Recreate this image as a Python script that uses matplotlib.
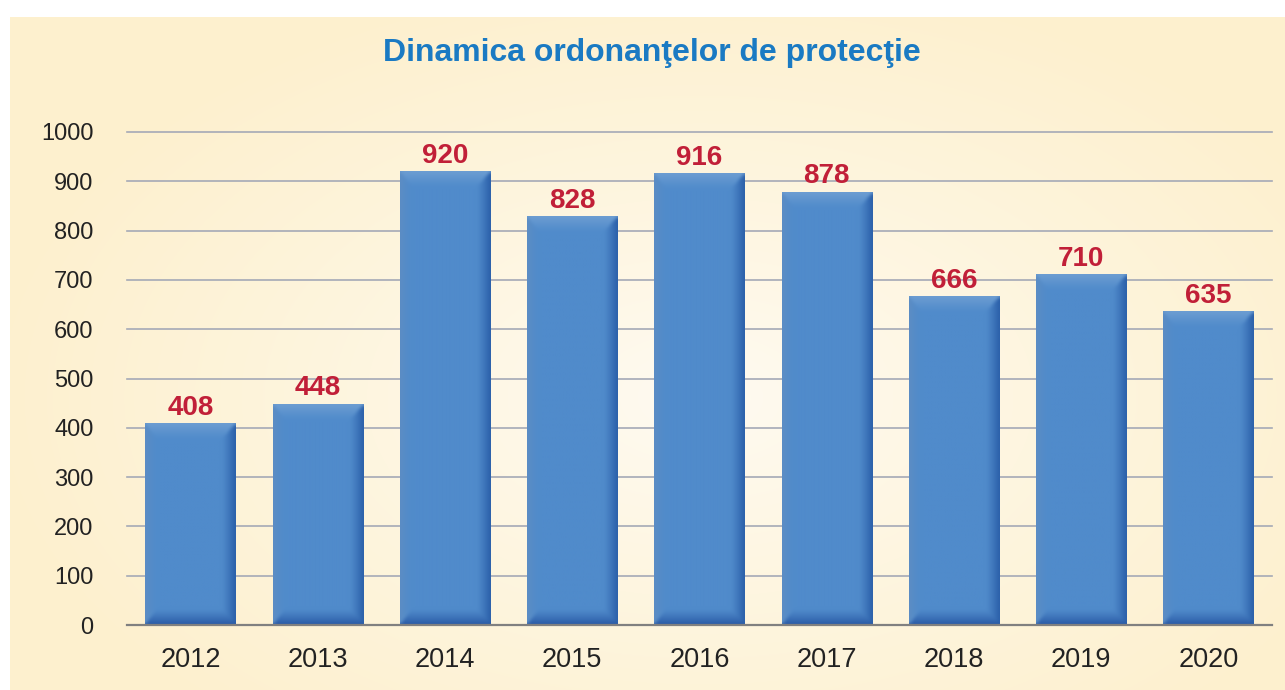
import numpy as np
import matplotlib
matplotlib.use('Agg')
import matplotlib.pyplot as plt

years = ['2012', '2013', '2014', '2015', '2016', '2017', '2018', '2019', '2020']
values = [408, 448, 920, 828, 916, 878, 666, 710, 635]
yticks = [0, 100, 200, 300, 400, 500, 600, 700, 800, 900, 1000]
title = 'Dinamica ordonanţelor de protecţie'

plt.rcParams['font.family'] = ['Liberation Sans', 'DejaVu Sans']

W, H = 1285, 690
fig = plt.figure(figsize=(W / 100, H / 100), dpi=100)
fig.patch.set_facecolor('white')

# background panel with radial gradient
px0, py0 = 10, 17
bg = fig.add_axes([px0 / W, 0, 1 - px0 / W, (H - py0) / H])
ny, nx = H - py0, W - px0
yy, xx = np.mgrid[0:ny, 0:nx]
cx, cy = 690, 380
d = np.sqrt(((xx - cx) / 720.0) ** 2 + ((yy - cy) / 430.0) ** 2)
t = np.clip(d, 0, 1) ** 0.9
inner = np.array([255, 251, 242]) / 255
outer = np.array([253, 240, 206]) / 255
img = inner + (outer - inner) * t[..., None]
bg.imshow(img, aspect='auto', extent=(0, 1, 0, 1), interpolation='bilinear')
bg.set_xlim(0, 1)
bg.set_ylim(0, 1)
bg.axis('off')

# main axes
L, R, B, T = 127, 1272, 625, 132
ax = fig.add_axes([L / W, (H - B) / H, (R - L) / W, (B - T) / H])
ax.patch.set_alpha(0)
x = np.arange(len(years))
bw = 0.71
bars = ax.bar(x, values, width=bw, color='#4f8bcb', zorder=2)

px_per_x = (R - L) / 9.0
px_per_y = (B - T) / 1000.0

base = np.array([0x50, 0x8b, 0xcb]) / 255
edge_cols = np.array([
    [0x5c, 0x8d, 0xc4],  # left
    [0x2a, 0x5e, 0xa8],  # right
    [0x6e, 0x9e, 0xd2],  # top
    [0x28, 0x58, 0xa4],  # bottom
]) / 255
bl, br, bt, bb = 12.0, 14.0, 16.0, 16.0


def smooth(a, k):
    kern = np.ones(k) / k
    pad = k // 2
    out = np.empty_like(a)
    ap = np.pad(a, ((pad, pad), (0, 0), (0, 0)), mode='edge')
    for c in range(a.shape[2]):
        for j in range(a.shape[1]):
            out[:, j, c] = np.convolve(ap[:, j, c], kern, mode='valid')[:a.shape[0]]
    ap = np.pad(out, ((0, 0), (pad, pad), (0, 0)), mode='edge')
    out2 = np.empty_like(a)
    for c in range(a.shape[2]):
        for i in range(a.shape[0]):
            out2[i, :, c] = np.convolve(ap[i, :, c], kern, mode='valid')[:a.shape[1]]
    return out2


def bevel_image(hpx, wpx):
    yv = np.arange(hpx)[:, None] + 0.5
    xv = np.arange(wpx)[None, :] + 0.5
    dl = xv / bl + 0 * yv
    dr = (wpx - xv) / br + 0 * yv
    dt = yv / bt + 0 * xv
    db = (hpx - yv) / bb + 0 * xv
    st = np.stack([dl, dr, dt, db])
    idx = np.argmin(st, axis=0)
    m = np.min(st, axis=0)
    w = np.clip(1 - m, 0, 1) ** 1.2
    col = base + (edge_cols[idx] - base) * w[..., None]
    col = smooth(col, 5)
    return np.clip(col, 0, 1)


for rect in bars:
    x0 = rect.get_x()
    w = rect.get_width()
    h = rect.get_height()
    wpx = int(round(w * px_per_x))
    hpx = int(round(h * px_per_y))
    im = bevel_image(hpx, wpx)
    ax.imshow(im, extent=(x0, x0 + w, 0, h), aspect='auto', zorder=3,
              interpolation='bilinear')

for xi, v in zip(x, values):
    ax.annotate(str(v), (xi, v), xytext=(0, 2), textcoords='offset points',
                ha='center', va='bottom', fontsize=20, fontweight='bold',
                color='#c11f38', zorder=5)

ax.set_xlim(-0.5, 8.5)
ax.set_ylim(0, 1000)
ax.set_yticks(yticks)
ax.set_yticklabels([str(v) for v in yticks])
ax.set_xticks(x)
ax.set_xticklabels(years)
ax.yaxis.grid(True, color='#a5a9b6', linewidth=1.2, zorder=1)
ax.set_axisbelow(True)
for s in ['left', 'right', 'top']:
    ax.spines[s].set_visible(False)
ax.spines['bottom'].set_color('#808080')
ax.spines['bottom'].set_linewidth(1.6)
ax.spines['bottom'].set_zorder(4)
ax.tick_params(axis='both', length=0, colors='#222222')
ax.tick_params(axis='y', pad=24, labelsize=17)
ax.tick_params(axis='x', pad=16, labelsize=19.5)
for gl in ax.get_ygridlines():
    gl.set_clip_on(False)

fig.text(652 / W, 1 - 53 / H, title, ha='center', va='center',
         fontsize=23, fontweight='bold', color='#1a7ac3')

fig.savefig('out.png', dpi=100, facecolor=fig.get_facecolor())
